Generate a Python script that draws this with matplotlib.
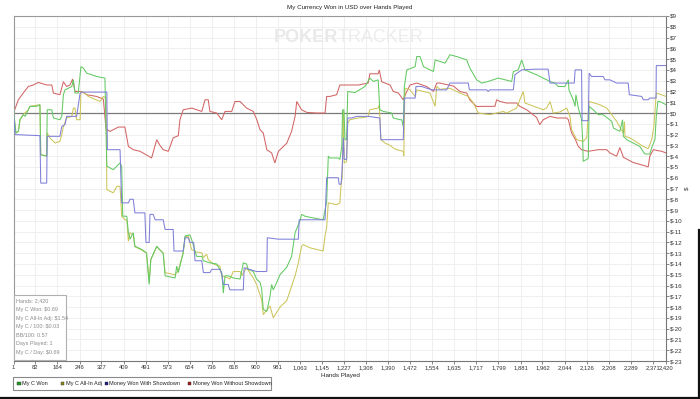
"""
My Currency Won in USD over Hands Played
PokerTracker-style session graph, four cumulative series
"""

import matplotlib.pyplot as plt
from matplotlib.patches import Rectangle
from matplotlib.lines import Line2D

plt.rcParams['font.family'] = ['Liberation Sans', 'DejaVu Sans']

W, H = 700, 399

# ---- data (hands, dollars) ----
green_h = [1, 10, 19, 25, 37, 44, 56, 62, 87, 99,
           102, 124, 126, 143, 149, 173, 180, 186, 192, 217,
           223, 229, 241, 251, 260, 272, 291, 309, 340, 347,
           359, 371, 396, 402, 406, 421, 427, 433, 445, 451,
           476, 494, 504, 510, 532, 544, 556, 563, 600, 606,
           612, 630, 637, 655, 661, 680, 699, 705, 729, 754,
           773, 779, 785, 797, 816, 841, 853, 865, 871, 890,
           902, 915, 921, 927, 940, 952, 958, 964, 977, 989,
           1014, 1032, 1045, 1063, 1069, 1082, 1106, 1149, 1156, 1162,
           1168, 1174, 1205, 1211, 1218, 1221, 1226, 1230, 1236, 1240,
           1267, 1304, 1322, 1335, 1353, 1359, 1372, 1403, 1409, 1434,
           1440, 1446, 1450, 1459, 1490, 1496, 1508, 1521, 1545, 1558,
           1564, 1601, 1619, 1644, 1681, 1693, 1718, 1737, 1761, 1798,
           1848, 1854, 1872, 1885, 1897, 1940, 1990, 2008, 2020, 2045,
           2058, 2060, 2076, 2083, 2086, 2095, 2107, 2111, 2113, 2126,
           2132, 2135, 2150, 2169, 2187, 2219, 2225, 2249, 2259, 2262,
           2274, 2323, 2336, 2342, 2360, 2367, 2379, 2384, 2390, 2403,
           2420]
green_v = [0.15, -1.85, -1.7, -0.62, -0.15, -0.31, 0.3, 0.62, 0.62, 0.77,
           -3.86, -4.0, 0.3, 0.3, -0.46, -0.62, -0.31, 1.7, 2.15, 2.46,
           3.08, 1.85, 1.85, 4.3, 4.17, 3.7, 3.55, 3.39, 3.24, -4.94,
           -5.1, -5.25, -4.63, -4.94, -9.57, -9.57, -11.1, -11.7, -11.1, -12.35,
           -12.65, -12.96, -15.9, -13.6, -12.35, -12.7, -13.0, -15.1, -15.3, -14.2,
           -14.8, -12.96, -11.4, -11.3, -11.7, -13.3, -13.3, -13.7, -13.9, -14.0,
           -14.8, -16.7, -15.1, -15.1, -15.3, -15.4, -13.9, -14.0, -14.5, -14.7,
           -15.4, -15.7, -16.3, -18.2, -18.4, -17.0, -15.9, -16.4, -15.7, -15.0,
           -14.3, -13.3, -11.1, -10.0, -9.4, -9.57, -9.7, -9.9, -9.0, -8.2,
           -4.0, -4.17, -4.17, -4.3, -3.1, 0.3, 0.3, -2.47, -2.47, 2.0,
           1.9, 2.46, 3.24, 2.93, 3.08, 0.3, 0.15, 0.0, -0.46, -0.62,
           -0.62, -1.24, 2.46, 4.0, 4.3, 5.24, 5.24, 4.3, 4.0, 3.85,
           4.93, 4.63, 5.4, 5.24, 4.93, 4.17, 3.08, 2.78, 2.93, 3.24,
           2.93, 3.85, 4.0, 4.93, 4.0, 3.55, 2.93, 2.78, 2.46, 2.46,
           3.08, 2.15, 1.23, 0.62, 1.7, 0.46, -0.62, -2.47, -4.48, -4.3,
           -4.17, 0.62, 0.3, -0.15, -0.15, -0.78, -1.39, -1.7, -0.62, -2.16,
           -2.47, -3.1, -3.6, -3.8, -3.8, -3.2, -2.47, -0.3, 1.1, 1.0,
           0.77]

olive_h = [1, 10, 19, 25, 37, 56, 62, 99, 102, 124,
           126, 136, 155, 173, 180, 186, 198, 217, 223, 229,
           235, 248, 251, 266, 278, 291, 322, 334, 344, 347,
           359, 371, 384, 396, 402, 414, 421, 427, 433, 445,
           451, 476, 494, 504, 510, 532, 556, 563, 600, 612,
           630, 637, 649, 661, 680, 699, 705, 717, 723, 742,
           766, 773, 797, 803, 816, 841, 847, 865, 890, 902,
           921, 927, 952, 964, 989, 1014, 1032, 1045, 1057, 1063,
           1069, 1075, 1100, 1149, 1156, 1162, 1168, 1199, 1211, 1215,
           1220, 1224, 1227, 1236, 1240, 1248, 1279, 1304, 1316, 1322,
           1353, 1357, 1363, 1378, 1397, 1409, 1421, 1446, 1448, 1452,
           1471, 1490, 1496, 1521, 1545, 1564, 1570, 1582, 1619, 1656,
           1687, 1706, 1724, 1767, 1817, 1829, 1866, 1878, 1891, 1897,
           1965, 1977, 1990, 2002, 2027, 2052, 2064, 2070, 2089, 2113,
           2126, 2135, 2175, 2200, 2219, 2237, 2262, 2266, 2268, 2286,
           2336, 2354, 2367, 2375, 2384, 2403, 2420]
olive_v = [0.15, -1.85, -1.7, -0.62, -0.15, 0.3, 0.62, 0.77, -3.86, -4.0,
           -1.85, -2.3, -2.78, -2.63, -2.0, -1.24, -0.46, -0.31, 0.46, 0.46,
           -0.62, -0.62, 2.0, 1.85, 1.54, 1.4, 1.07, 1.54, 1.39, -7.1,
           -7.26, -7.4, -6.8, -6.8, -9.57, -9.9, -9.9, -11.9, -11.1, -11.3,
           -12.4, -12.7, -13.0, -15.6, -13.6, -12.4, -13.0, -14.8, -15.0, -14.6,
           -13.0, -11.5, -11.4, -12.65, -12.9, -12.96, -13.4, -13.1, -13.6, -14.0,
           -14.2, -15.1, -15.3, -15.4, -14.7, -14.7, -15.1, -14.35, -15.3, -15.9,
           -17.3, -18.7, -17.9, -19.0, -18.0, -17.4, -16.05, -15.1, -13.9, -13.1,
           -12.35, -12.2, -12.5, -12.8, -11.4, -10.6, -8.33, -8.5, -8.33, -6.8,
           -5.87, 0.15, -4.63, -4.5, -0.93, -0.62, -0.46, -0.4, -0.31, 0.3,
           0.46, 0.77, -2.47, -2.78, -3.0, -3.24, -3.4, -3.55, -4.0, 2.3,
           2.15, 1.54, 2.15, 2.0, 1.85, 0.62, 2.46, 2.2, 2.3, 1.85,
           1.54, 0.93, 0.0, -0.15, 0.15, 0.0, 0.46, 1.23, 2.0, 0.93,
           0.3, 0.46, 1.07, 0.0, 0.1, 0.46, -0.31, -1.55, -2.47, -2.63,
           -2.3, 1.07, 0.77, 0.46, -0.15, -0.78, -1.85, -0.8, -2.16, -2.3,
           -3.1, -3.3, -2.47, -1.24, 1.85, 1.7, 1.54]

blue_h = [1, 7, 99, 102, 124, 126, 173, 180, 192, 198,
          235, 248, 254, 347, 349, 396, 402, 427, 433, 445,
          451, 488, 492, 504, 507, 519, 526, 556, 563, 593,
          596, 630, 637, 649, 655, 669, 674, 699, 705, 729,
          736, 766, 773, 779, 797, 803, 853, 856, 902, 940,
          942, 983, 1057, 1060, 1156, 1162, 1205, 1208, 1215, 1218,
          1224, 1227, 1236, 1240, 1255, 1273, 1316, 1359, 1363, 1446,
          1450, 1490, 1493, 1514, 1552, 1607, 1619, 1687, 1691, 1755,
          1761, 1767, 1854, 1860, 1885, 1934, 1983, 1990, 2080, 2083,
          2107, 2109, 2132, 2135, 2144, 2187, 2194, 2212, 2237, 2280,
          2284, 2330, 2336, 2354, 2360, 2383, 2384, 2420]
blue_v = [0.15, -2.0, -2.1, -6.5, -6.5, -2.16, -2.16, -1.24, -1.08, -0.31,
          -0.31, 1.85, 1.94, 1.94, -3.4, -3.4, -8.33, -8.33, -8.0, -8.0,
          -9.26, -9.26, -12.0, -12.0, -9.4, -9.4, -9.9, -9.9, -10.8, -10.8,
          -12.8, -12.8, -11.57, -11.57, -12.0, -12.0, -13.7, -13.7, -14.8, -14.8,
          -14.5, -14.5, -14.9, -15.9, -15.9, -16.4, -16.4, -14.35, -14.7, -14.7,
          -11.57, -11.7, -11.7, -9.9, -9.9, -6.0, -6.0, -6.6, -6.6, -5.87,
          -2.3, -4.3, -4.3, -0.46, -0.46, -0.31, -0.31, -0.46, -2.47, -2.47,
          1.39, 1.39, 2.46, 2.46, 2.15, 2.15, 2.78, 2.78, 2.15, 2.15,
          2.0, 2.15, 2.15, 3.55, 4.0, 4.07, 4.07, 2.78, 2.78, 4.0,
          4.0, -0.71, -0.71, 3.7, 3.39, 3.39, 3.08, 3.08, 2.78, 2.78,
          1.7, 1.54, 1.23, 1.23, 1.39, 1.39, 4.4, 4.4]

red_h = [1, 19, 37, 56, 74, 93, 124, 143, 149, 173,
         186, 198, 210, 220, 229, 254, 272, 309, 334, 344,
         359, 390, 414, 427, 445, 470, 495, 513, 532, 544,
         556, 575, 593, 612, 618, 630, 662, 680, 699, 711,
         723, 729, 754, 773, 785, 810, 822, 841, 865, 890,
         903, 915, 927, 940, 958, 970, 983, 1014, 1032, 1045,
         1051, 1069, 1088, 1125, 1156, 1162, 1174, 1199, 1211, 1248,
         1279, 1316, 1322, 1353, 1357, 1366, 1397, 1409, 1428, 1446,
         1459, 1471, 1496, 1533, 1558, 1570, 1582, 1632, 1656, 1681,
         1693, 1718, 1743, 1786, 1792, 1805, 1829, 1866, 1878, 1903,
         1940, 1952, 1965, 1990, 2015, 2052, 2058, 2070, 2083, 2095,
         2107, 2132, 2169, 2200, 2212, 2237, 2249, 2262, 2299, 2336,
         2354, 2360, 2373, 2404, 2420]
red_v = [0.0, 1.23, 1.85, 2.46, 2.6, 2.84, 2.6, 2.6, 1.85, 1.7,
         2.9, 2.46, 2.6, 3.15, 2.0, 2.0, 1.7, 1.54, 1.3, -1.48,
         -1.7, -1.3, -1.3, -3.1, -3.4, -3.55, -3.9, -4.17, -2.47, -3.0,
         -3.4, -3.55, -2.3, -2.1, -0.62, 0.3, 0.46, 0.3, 0.15, 1.23,
         1.23, 0.15, 0.0, -0.62, 0.15, 0.15, 1.07, 1.07, 0.46, 0.15,
         -0.62, -1.55, -1.85, -3.4, -3.7, -4.63, -3.55, -2.8, -1.7, -0.3,
         1.07, 0.3, 0.06, 0.0, 0.0, 1.54, 1.54, 1.7, 2.6, 2.6,
         2.6, 2.78, 3.64, 3.64, 4.0, 2.9, 2.6, 2.0, 1.85, 1.23,
         2.0, 2.6, 2.78, 2.46, 2.0, 2.78, 2.78, 2.5, 2.0, 1.85,
         1.2, 0.6, 0.62, 0.62, 1.23, 1.07, 0.93, 0.93, 0.62, 0.31,
         -0.4, -1.08, -0.62, -0.31, -0.46, -0.46, -0.62, -1.85, -2.4, -3.1,
         -3.4, -3.55, -3.4, -3.4, -3.7, -4.0, -3.2, -4.1, -4.6, -4.85,
         -5.0, -4.0, -3.4, -3.55, -3.7]

x_ticks = [1, 82, 164, 246, 327, 409, 491, 573, 654, 736, 818, 900, 981,
           1063, 1145, 1227, 1308, 1390, 1472, 1554, 1635, 1717, 1799, 1881,
           1962, 2044, 2126, 2208, 2289, 2371, 2420]
y_ticks = list(range(-23, 10))

series_labels = ['My C Won', 'My C All-In Adj', 'Money Won With Showdown',
                 'Money Won Without Showdown']
stats_lines = ['Hands: 2,420', 'My C Won: $0.69', 'My C All-In Adj: $1.54',
               'My C / 100: $0.03', 'BB/100: 0.57', 'Days Played: 1',
               'My C / Day: $0.69']

# ---- styles ----
line_colors = ['#62C962', '#CCC55A', '#7F7FD9', '#D36464']
swatch_colors = ['#1E9E1E', '#8E8A10', '#1A1A8A', '#A81818']

fig = plt.figure(figsize=(W / 100, H / 100), dpi=100)
ax = fig.add_axes([13.5 / W, 1 - 361 / H, (666 - 13.5) / W, (361 - 16) / H])

series = [(green_h, green_v), (olive_h, olive_v), (blue_h, blue_v), (red_h, red_v)]
for (hx, vy), c, z in zip(series, line_colors, [4, 3, 5, 2]):
    ax.plot(hx, vy, color=c, lw=0.75, zorder=z, solid_joinstyle='miter')

ax.axhline(0, color='#7a7a7a', lw=0.9, zorder=1.5)

ax.set_xlim(1, 2420)
ax.set_ylim(-23, 9)
ax.set_xticks(x_ticks)
ax.set_xticklabels([f'{v:,}' for v in x_ticks])
ax.set_yticks(y_ticks)
ax.set_yticklabels([f'${v}' for v in y_ticks])
ax.yaxis.tick_right()
ax.yaxis.set_label_position('right')
ax.set_ylabel('$', fontsize=4.5, rotation=90, labelpad=1.5, color='#333333')

ax.tick_params(labelsize=4.5, length=2, width=0.5, color='#555555',
               labelcolor='#333333', pad=1)
ax.tick_params(axis='x', labelsize=4.2)
ax.grid(True, color='#ededed', lw=0.6)
ax.set_axisbelow(True)
for side, col in [('left', '#999999'), ('top', '#999999'),
                  ('right', '#777777'), ('bottom', '#777777')]:
    ax.spines[side].set_color(col)
    ax.spines[side].set_linewidth(0.8)

# title and x label
fig.text(0.5, 1 - 8 / H, 'My Currency Won in USD over Hands Played',
         ha='center', va='center', fontsize=4.5, color='#222222')
fig.text(340 / W, 1 - 375 / H, 'Hands Played', ha='center', va='center',
         fontsize=4.5, color='#222222')

# watermark
fig.text(338 / W, 1 - 38 / H, 'POKER', ha='right', va='center', fontsize=13,
         fontweight='bold', color='#e9e9e9', zorder=0.5)
fig.text(338 / W, 1 - 38 / H, 'TRACKER', ha='left', va='center', fontsize=13,
         color='#ececec', zorder=0.5)

# stats box
fig.patches.append(Rectangle((13.5 / W, 1 - 360 / H), (65.7 - 13.5) / W,
                             (360 - 295.3) / H, transform=fig.transFigure,
                             fc='white', ec='#b0b0b0', lw=0.8, zorder=6))
for i, line in enumerate(stats_lines):
    fig.text(15.7 / W, 1 - (301 + i * 8.6) / H, line, ha='left', va='center',
             fontsize=3.9, color='#8a8a8a', zorder=7)

# legend
fig.patches.append(Rectangle((13.3 / W, 1 - 390 / H), (271 - 13.3) / W,
                             (390 - 377.3) / H, transform=fig.transFigure,
                             fc='white', ec='#8a8a8a', lw=0.8, zorder=6))
sw_x = [17.3, 60.5, 104.5, 187.5]
for x0, lab, c in zip(sw_x, series_labels, swatch_colors):
    fig.patches.append(Rectangle((x0 / W, 1 - 385.2 / H), 3.6 / W, 3.6 / H,
                                 transform=fig.transFigure, fc=c,
                                 ec='#333333', lw=0.3, zorder=7))
    fig.text((x0 + 5) / W, 1 - 383.5 / H, lab, ha='left', va='center',
             fontsize=4, color='#222222', zorder=7)

# window frame shadow
fig.add_artist(Line2D([0, 1], [1 - 397.5 / H] * 2, transform=fig.transFigure,
                      color='#111111', lw=1.6))
fig.add_artist(Line2D([698.8 / W] * 2, [0, 1 - 230 / H], transform=fig.transFigure,
                      color='#111111', lw=1.6))

fig.savefig('out.png', dpi=100)
plt.close(fig)
